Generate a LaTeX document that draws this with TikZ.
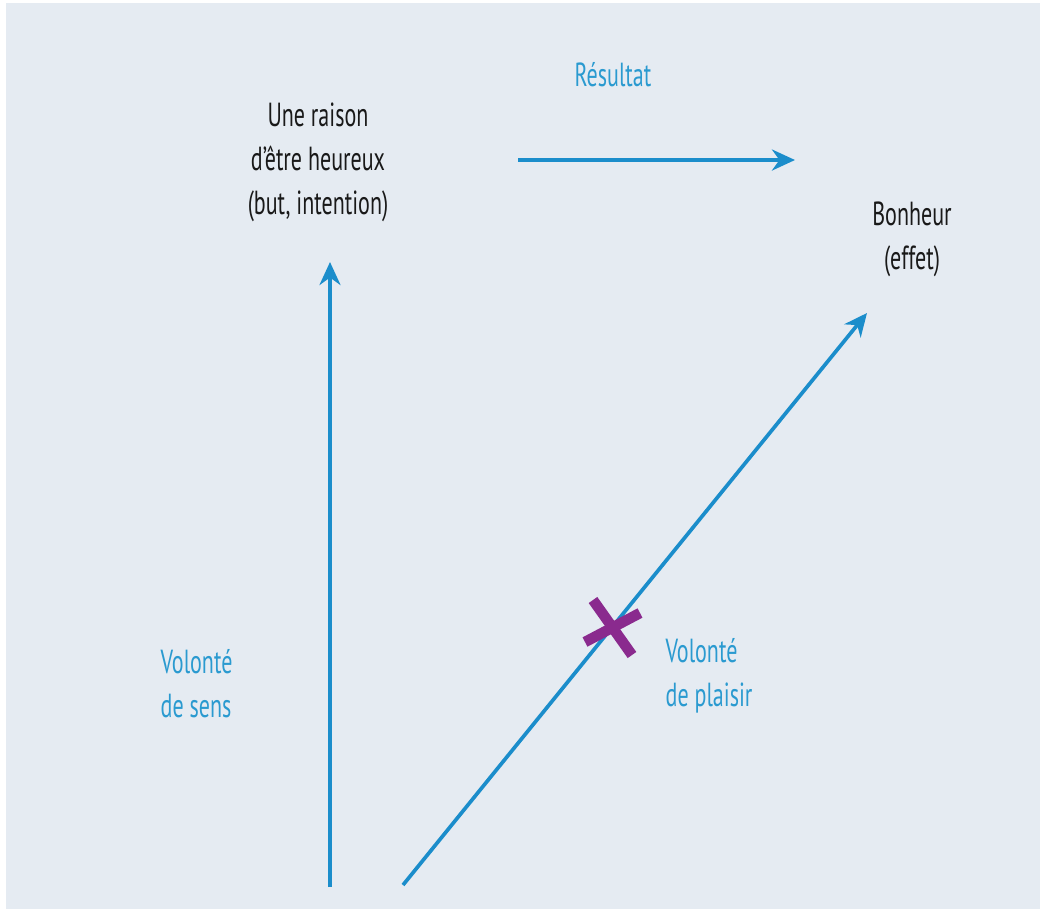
\documentclass[tikz,border=0pt]{standalone}
\usepackage{fontspec}
\setmainfont{PT Sans}[FakeStretch=0.66]
\usepackage{tikz}
\usetikzlibrary{arrows.meta,positioning}

\definecolor{fond}{HTML}{E5EBF2}
\definecolor{bleu}{HTML}{1B8DCB}
\definecolor{bleutexte}{HTML}{2A9AD0}
\definecolor{violet}{HTML}{8A2A8E}

\begin{document}
\begin{tikzpicture}[x=0.1mm, y=-0.1mm, >={Stealth[length=2.3mm,width=2.1mm]},
    font=\fontsize{9.5}{12.5}\selectfont,
    fleche/.style={->, draw=bleu, line width=1.05pt},
    noir/.style={align=center, text=black!90, inner sep=0pt},
    bleulab/.style={align=left, text=bleutexte, inner sep=0pt}]
  \useasboundingbox (0,0) rectangle (1040,910);
  % background
  \fill[fond] (6,3) rectangle (1040,909);
  % labels
  \node[noir] (raison) at (318,162) {Une raison\\d'être heureux\\(but, intention)};
  \node[noir] (bonheur) at (912,239) {Bonheur\\(effet)};
  \node[text=bleutexte, inner sep=0pt] (resultat) at (613,75) {Résultat};
  \node[bleulab, anchor=west] (sens) at (160,684) {Volonté\\de sens};
  \node[bleulab, anchor=west] (plaisir) at (665,676) {Volonté\\de plaisir};
  % free ends of the arrows
  \coordinate (hgauche) at (518,160);
  \coordinate (hdroite) at (795,160);
  \coordinate (sbas) at (330,887);
  \coordinate (shaut) at (330,262);
  \coordinate (pbas) at (403,885);
  \coordinate (phaut) at (867,313);
  % arrows
  \draw[fleche, line width=1.2pt] (hgauche) -- (hdroite);
  \draw[fleche] (sbas) -- (shaut);
  \draw[fleche] (pbas) -- (phaut);
  % the cross on the pleasure arrow
  \coordinate (croix) at (612,628);
  \draw[violet, line width=3pt] ([shift={(-19,-28)}]croix) -- ([shift={(20,27)}]croix);
  \draw[violet, line width=3pt] ([shift={(-27,14)}]croix) -- ([shift={(28,-15)}]croix);
\end{tikzpicture}
\end{document}
